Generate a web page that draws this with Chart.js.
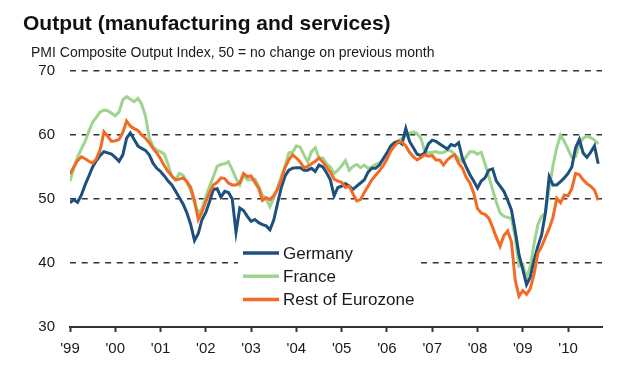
<!DOCTYPE html>
<html>
<head>
<meta charset="utf-8">
<script src="https://cdn.jsdelivr.net/npm/chart.js@4.4.1/dist/chart.umd.min.js"></script>
<style>
  body { margin: 0; background: #fff; }
  #wrap { position: relative; width: 630px; height: 370px; font-family: "Liberation Sans", Arial, sans-serif; color: #111; }
  #chart { position: absolute; left: 0; top: 0; }
  .title { position: absolute; left: 23px; top: 12px; font-size: 21px; line-height: 21px; font-weight: bold; white-space: nowrap; }
  .subtitle { position: absolute; left: 31px; top: 45px; font-size: 14px; line-height: 14px; white-space: nowrap; color: #1a1a1a; }
</style>
</head>
<body>
<div id="wrap">
  <canvas id="chart" width="630" height="370"></canvas>
  <div class="title">Output (manufacturing and services)</div>
  <div class="subtitle">PMI Composite Output Index, 50 = no change on previous month</div>
</div>
<script>
// monthly, Jan 1999 .. Sep 2010
const yearLabels = ["'99", "'00", "'01", "'02", "'03", "'04", "'05", "'06", "'07", "'08", "'09", "'10"];

const germany = [
  49.4, 49.9, 49.5, 50.6, 52.2, 53.6, 55, 56, 56.8, 57.4, 57.2, 57,
  56.5, 55.9, 56.9, 59.5, 60.3, 59.3, 58.3, 57.9, 57.6, 56.9, 55.6, 54.8,
  54.3, 53.6, 52.8, 52.2, 51.2, 50.2, 49.2, 47.8, 46, 43.5, 44.6, 46.8,
  47.9, 49.6, 51.5, 51.6, 50.3, 51.2, 51, 50, 44.8, 48.6, 48.2, 47.3,
  46.5, 46.8, 46.3, 46, 45.8, 45.2, 46.7, 49.3, 51.8, 53.6, 54.5, 54.8,
  54.9, 54.9, 54.5, 54.5, 54.8, 54.3, 55.3, 55, 54.1, 53, 50.5, 51.8,
  52, 52.4, 52, 51.5, 52, 52.5, 53, 54.2, 54.8, 54.8, 55.3, 56.3,
  57.2, 58.3, 58.8, 59, 58.6, 61, 59, 58, 57, 56.8, 57.2, 58.6,
  59.2, 59, 58.6, 58.2, 57.8, 58.5, 58.3, 58.8, 56.4, 55, 53.8, 52.8,
  51.7, 52.8, 53.3, 54.5, 54.7, 52.8, 52, 51.2, 49.8, 48.3, 45, 41.3,
  39, 36.6, 37.8, 40.5, 42.6, 44.4, 47.8, 53.5, 52.2, 52.2, 52.7, 53.3,
  54, 55, 58, 59.3, 57.2, 56.5, 57.3, 58.3, 55.5
];

const france = [
  52.8, 54.8, 56.6, 57.8, 59, 60.6, 62, 62.8, 63.6, 63.9, 63.8, 63.4,
  63, 63.6, 65.5, 66, 65.6, 65.2, 65.7, 64.8, 63, 59.6, 58.2, 57.6,
  57.4, 57, 55.4, 53.5, 53, 54, 53.7, 52.6, 51.3, 49.3, 47.8, 48.5,
  50.4, 52, 53.5, 55.1, 55.4, 55.5, 55.8, 54.6, 53.2, 52.2, 53.7, 53,
  53, 53.1, 52, 50.6, 50, 48.8, 50.2, 51.8, 53.5, 55.1, 57.2, 57.3,
  58.3, 58.1, 56.9, 55.8, 57.4, 58, 56.4, 56.4, 55.5, 55, 54, 54.5,
  55.2, 56, 54.5, 55.1, 55.4, 54.9, 55.3, 54.8, 55, 55.4, 55.6, 56.1,
  56.9, 57.9, 58.6, 59.1, 59.5, 59.9, 60.3, 60.5, 60.2, 59.5, 57.5, 57.2,
  57.3, 57.4, 57.2, 57.3, 57.6, 57.5, 56.9, 56.3, 55.8, 56.6, 57.4, 57.4,
  57, 57.3, 55.5, 53.5, 51.5, 49.5, 47.8, 47.3, 47.1, 47, 44, 39.5,
  39.8, 37.6, 39.5, 43, 46, 47.3, 47.8, 51.6, 55.2, 58, 60, 59,
  57.8, 56.5, 56.6, 58.6, 59.5, 59.8, 59.6, 59.2, 58.6
];

const restOfEurozone = [
  53.9, 55, 56, 56.6, 56.3, 55.9, 55.6, 56.3, 57.7, 60.5, 59.8, 59,
  59.1, 59.3, 60.4, 62.2, 61.4, 61, 60.7, 60, 59.5, 58.8, 57.9, 57.2,
  56.3, 55.2, 54.3, 53.6, 53, 53.1, 53.3, 52.7, 51.8, 49.8, 46.8, 48,
  49.6, 51, 52.2, 52.6, 53.3, 53.2, 52.5, 52.2, 52.2, 52.5, 54, 53.5,
  53.6, 52.6, 51.7, 49.8, 50.2, 49.9, 50.5, 51.5, 53, 54.9, 56.1, 56.9,
  56.4, 55.8, 54.9, 55.1, 55.5, 55.9, 56.4, 55.8, 55, 54.2, 53.1, 52.8,
  52.6, 51.8, 52, 50.8, 49.7, 49.9, 51, 52, 53, 53.7, 54.4, 55.2,
  56.2, 57.5, 58.3, 58.9, 58.9, 58.3, 57.3, 56.6, 56.1, 56.5, 56.9, 56.7,
  56.8, 56.1, 56.1, 55.3, 56.1, 56.6, 56.9, 55.6, 54.8, 53.4, 52.5, 50.9,
  48.5, 47.8, 47.6, 47, 45.6, 44, 42.6, 44.3, 45, 43.3, 37.3, 34.8,
  35.7, 35.1, 36, 38.3, 41.5, 42.6, 44, 45.4, 47.1, 50.1, 49.4, 50.6,
  50.5, 51.6, 54, 53.8, 53, 52.4, 52, 51.4, 49.8
];

const FONT = '"Liberation Sans", Arial, sans-serif';
const toPoints = (values) => values.map((v, i) => ({ x: i, y: v }));

// legend sits inside the plot on a white box, lines on the left
const legendBox = {
  id: 'legendBox',
  afterDatasetsDraw(chart) {
    const ctx = chart.ctx;
    ctx.save();
    ctx.fillStyle = '#fff';
    ctx.fillRect(238, 238, 182, 72);
    ctx.font = '17px ' + FONT;
    ctx.textBaseline = 'middle';
    chart.data.datasets.forEach((ds, i) => {
      const y = 253 + i * 23.2;
      ctx.strokeStyle = ds.borderColor;
      ctx.lineWidth = 3.5;
      ctx.beginPath();
      ctx.moveTo(243, y);
      ctx.lineTo(279, y);
      ctx.stroke();
      ctx.fillStyle = '#1a1a1a';
      ctx.fillText(ds.label, 283, y + 1);
    });
    ctx.restore();
  }
};

new Chart(document.getElementById('chart'), {
  type: 'line',
  data: {
    datasets: [
      { label: 'Germany', data: toPoints(germany), borderColor: '#1d4f7f', order: 1 },
      { label: 'France', data: toPoints(france), borderColor: '#9dd48e', order: 2 },
      { label: 'Rest of Eurozone', data: toPoints(restOfEurozone), borderColor: '#f26a24', order: 0 }
    ]
  },
  options: {
    responsive: false,
    animation: false,
    layout: { padding: { top: 71, right: 28, bottom: 0, left: 0 } },
    elements: {
      line: { borderWidth: 3, tension: 0, fill: false },
      point: { radius: 0 }
    },
    plugins: {
      legend: { display: false },
      tooltip: { enabled: false }
    },
    scales: {
      x: {
        type: 'linear',
        min: 0,
        max: 141,
        // one tick per January
        afterBuildTicks: (s) => { s.ticks = yearLabels.map((_, i) => ({ value: i * 12 })); },
        afterFit: (s) => { s.height = 43; },
        ticks: {
          autoSkip: false,
          maxRotation: 0,
          padding: 8,
          color: '#1a1a1a',
          font: { family: FONT, size: 15 },
          callback: (v) => yearLabels[Math.round(v / 12)]
        },
        grid: { drawOnChartArea: false, drawTicks: true, tickLength: 5, tickColor: '#333', tickWidth: 2 },
        border: { display: true, color: '#333', width: 2 }
      },
      y: {
        min: 30,
        max: 70,
        afterFit: (s) => { s.width = 70; },
        ticks: {
          stepSize: 10,
          padding: 15,
          color: '#1a1a1a',
          font: { family: FONT, size: 15 }
        },
        grid: {
          drawTicks: false,
          lineWidth: 1.5,
          color: (c) => (c.tick && c.tick.value === 30 ? 'rgba(0,0,0,0)' : '#333')
        },
        border: { display: false, dash: [6, 5.7] }
      }
    }
  },
  plugins: [legendBox]
});
</script>
</body>
</html>
